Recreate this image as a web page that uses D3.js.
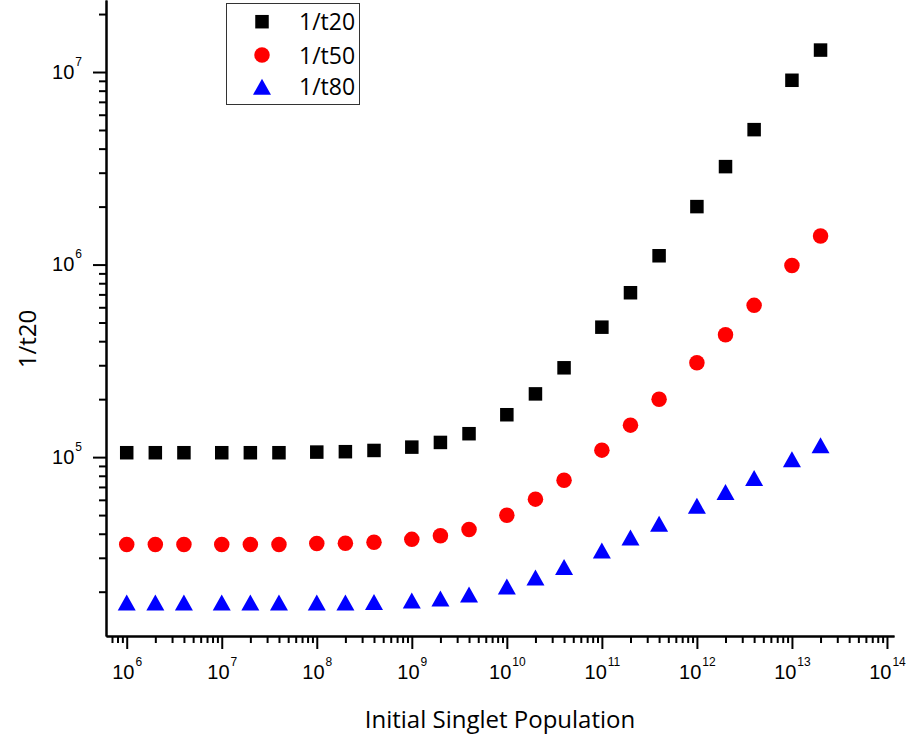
<!DOCTYPE html>
<html>
<head>
<meta charset="utf-8">
<script src="https://cdn.jsdelivr.net/npm/d3@7"></script>
<style>
    body { margin: 0; background: #fff; }
    svg { display: block; font-family: "Open Sans", sans-serif; }
    .axis path, .axis line { stroke: #000; stroke-width: 2; }
    .axis text { fill: #000; font-size: 20px; }
</style>
</head>
<body>
<svg id="chart"></svg>
<script>
// Initial singlet population (x) and the three inverse times (y)
const populations = [1e6, 2e6, 4e6, 1e7, 2e7, 4e7, 1e8, 2e8, 4e8, 1e9, 2e9, 4e9,
    1e10, 2e10, 4e10, 1e11, 2e11, 4e11, 1e12, 2e12, 4e12, 1e13, 2e13];

const invT20 = [1.054e5, 1.054e5, 1.054e5, 1.054e5, 1.054e5, 1.054e5, 1.062e5, 1.067e5, 1.083e5,
    1.127e5, 1.192e5, 1.323e5, 1.66e5, 2.13e5, 2.91e5, 4.73e5, 7.14e5, 1.111e6,
    2.0e6, 3.226e6, 5.02e6, 9.06e6, 1.30e7];

const invT50 = [3.52e4, 3.52e4, 3.52e4, 3.52e4, 3.52e4, 3.52e4, 3.56e4, 3.57e4, 3.61e4,
    3.74e4, 3.91e4, 4.21e4, 4.99e4, 6.05e4, 7.59e4, 1.087e5, 1.466e5, 2.0e5,
    3.09e5, 4.32e5, 6.14e5, 9.9e5, 1.406e6];

const invT80 = [1.758e4, 1.758e4, 1.758e4, 1.758e4, 1.758e4, 1.758e4, 1.76e4, 1.76e4, 1.77e4,
    1.80e4, 1.845e4, 1.936e4, 2.13e4, 2.37e4, 2.69e4, 3.27e4, 3.83e4, 4.51e4,
    5.59e4, 6.58e4, 7.78e4, 9.75e4, 1.153e5];

const seriesNames = ["1/t20", "1/t50", "1/t80"];
const xMajorExponents = [6, 7, 8, 9, 10, 11, 12, 13, 14];
const yMajorExponents = [5, 6, 7];
const xTitle = "Initial Singlet Population";
const yTitle = "1/t20";

// Setup the svg and the plot frame
const width = 909, height = 740;
const frame = { left: 106, right: 894, top: 0, bottom: 636 };

const svg = d3.select("#chart")
    .attr("width", width)
    .attr("height", height);

const x = d3.scaleLog()
    .domain([Math.pow(10, 5.782), Math.pow(10, 14.074)])
    .range([frame.left, frame.right]);

const y = d3.scaleLog()
    .domain([Math.pow(10, 4.071), Math.pow(10, 7.374)])
    .range([frame.bottom, frame.top]);

// minor ticks 2..9 in every decade that falls in the domain
function minorTicks(scale, fromExp, toExp) {
    const [lo, hi] = scale.domain();
    const out = [];
    for (let e = fromExp; e <= toExp; e++) {
        for (let k = 2; k <= 9; k++) {
            const v = k * Math.pow(10, e);
            if (v >= lo && v <= hi) out.push(v);
        }
    }
    return out;
}

// writes "10" with the exponent raised after it
function powerLabel(sel) {
    sel.each(function(d) {
        const t = d3.select(this).text(null);
        t.append("tspan").text("10");
        t.append("tspan")
            .attr("dy", -13)
            .attr("dx", 1)
            .style("font-size", "12px")
            .text(Math.round(Math.log10(d)));
    });
}

// X axis: minor then major ticks
svg.append("g")
    .attr("class", "x axis minor")
    .attr("transform", "translate(0," + frame.bottom + ")")
    .call(d3.axisBottom(x).tickValues(minorTicks(x, 5, 13)).tickSize(7).tickSizeOuter(0).tickFormat(""));

svg.append("g")
    .attr("class", "x axis")
    .attr("transform", "translate(0," + frame.bottom + ")")
    .call(d3.axisBottom(x)
        .tickValues(xMajorExponents.map(e => Math.pow(10, e)))
        .tickSize(13).tickSizeOuter(0).tickPadding(16))
    .selectAll(".tick text").call(powerLabel);

// Y axis
svg.append("g")
    .attr("class", "y axis minor")
    .attr("transform", "translate(" + frame.left + ",0)")
    .call(d3.axisLeft(y).tickValues(minorTicks(y, 4, 7)).tickSize(7).tickSizeOuter(0).tickFormat(""));

svg.append("g")
    .attr("class", "y axis")
    .attr("transform", "translate(" + frame.left + ",0)")
    .call(d3.axisLeft(y)
        .tickValues(yMajorExponents.map(e => Math.pow(10, e)))
        .tickSize(13).tickSizeOuter(0).tickPadding(11))
    .selectAll(".tick text").call(powerLabel);

// Axis titles
svg.append("text")
    .attr("x", 500)
    .attr("y", 728)
    .attr("text-anchor", "middle")
    .style("font-size", "24px")
    .text(xTitle);

svg.append("text")
    .attr("transform", "translate(36,339) rotate(-90)")
    .attr("text-anchor", "middle")
    .style("font-size", "24px")
    .text(yTitle);

// Marker shapes
const shapes = [
    g => g.append("rect").attr("x", -6.75).attr("y", -6.75).attr("width", 13.5).attr("height", 13.5).attr("fill", "#000"),
    g => g.append("circle").attr("r", 7.75).attr("fill", "#ff0000"),
    g => g.append("path").attr("d", "M0,-8L9,8L-9,8Z").attr("fill", "#0000ff")
];

const series = [invT20, invT50, invT80];

series.forEach(function(values, i) {
    svg.append("g")
        .attr("class", "series")
        .selectAll("g")
        .data(populations.map((p, j) => ({ x: p, y: values[j] })))
        .join("g")
        .attr("transform", d => "translate(" + x(d.x) + "," + y(d.y) + ")")
        .each(function() { shapes[i](d3.select(this)); });
});

// Legend
const legend = svg.append("g").attr("class", "legend");

legend.append("rect")
    .attr("x", 226.5).attr("y", 3.5)
    .attr("width", 133).attr("height", 101)
    .attr("fill", "none")
    .attr("stroke", "#333")
    .attr("stroke-width", 1);

const legendRows = [21.7, 55, 86.7];
seriesNames.forEach(function(name, i) {
    const row = legend.append("g").attr("transform", "translate(262," + legendRows[i] + ")");
    shapes[i](row);
    row.append("text")
        .attr("x", 37)
        .attr("y", 8.5)
        .style("font-size", "23px")
        .text(name);
});
</script>
</body>
</html>
